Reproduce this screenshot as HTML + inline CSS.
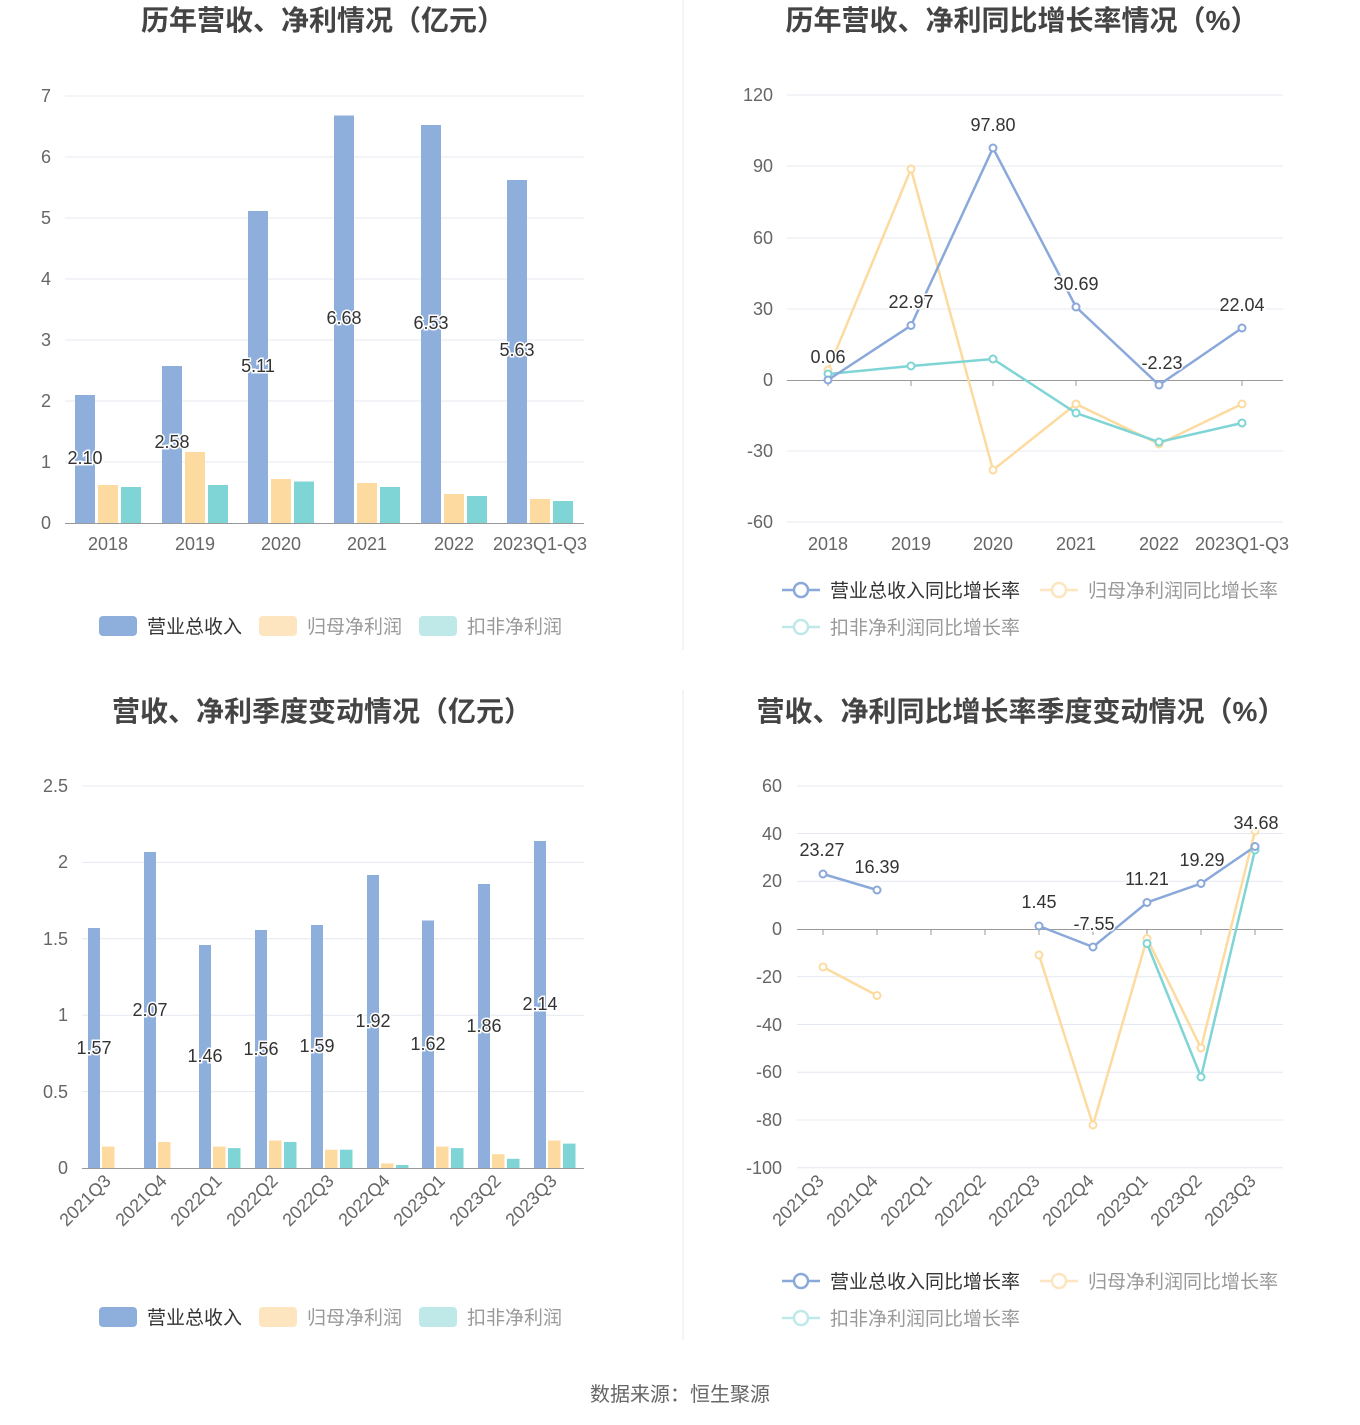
<!DOCTYPE html>
<html><head><meta charset="utf-8"><style>
body{margin:0;background:#fff;}
svg{display:block;font-family:"Liberation Sans","Noto Sans CJK SC",sans-serif;}
.t{font-size:28px;font-weight:bold;fill:#444;text-anchor:middle;}
.ax{font-size:18px;fill:#666;}
.g{stroke:#e4e8f0;stroke-width:1;}
.lb{font-size:18px;fill:#333;text-anchor:middle;paint-order:stroke;stroke:#fff;stroke-width:3px;}
.lg{font-size:19px;fill:#999;}
</style></head><body>
<svg width="1360" height="1425" viewBox="0 0 1360 1425">
<line x1="683" y1="0" x2="683" y2="650" stroke="#e8e8e8"/>
<line x1="683" y1="690" x2="683" y2="1340" stroke="#e8e8e8"/>

<!-- Chart 1 -->
<text class="t" x="323" y="30">历年营收、净利情况（亿元）</text>
<g class="g">
<line x1="65" x2="584" y1="96" y2="96"/><line x1="65" x2="584" y1="157" y2="157"/><line x1="65" x2="584" y1="218" y2="218"/><line x1="65" x2="584" y1="279" y2="279"/><line x1="65" x2="584" y1="340" y2="340"/><line x1="65" x2="584" y1="401" y2="401"/><line x1="65" x2="584" y1="462" y2="462"/>
</g>
<g class="ax" text-anchor="middle">
<text x="46" y="102">7</text><text x="46" y="163">6</text><text x="46" y="224">5</text><text x="46" y="285">4</text><text x="46" y="346">3</text><text x="46" y="407">2</text><text x="46" y="468">1</text><text x="46" y="529">0</text>
<text x="108" y="550">2018</text><text x="195" y="550">2019</text><text x="281" y="550">2020</text><text x="367" y="550">2021</text><text x="454" y="550">2022</text><text x="540" y="550">2023Q1-Q3</text>
</g>
<g fill="#8eaedc">
<rect x="75" y="395" width="20" height="128"/><rect x="162" y="366" width="20" height="157"/><rect x="248" y="211" width="20" height="312"/><rect x="334" y="115.5" width="20" height="407.5"/><rect x="421" y="125" width="20" height="398"/><rect x="507" y="180" width="20" height="343"/>
</g>
<g fill="#fddba0">
<rect x="98" y="485" width="20" height="38"/><rect x="185" y="452" width="20" height="71"/><rect x="271" y="479" width="20" height="44"/><rect x="357" y="483" width="20" height="40"/><rect x="444" y="494" width="20" height="29"/><rect x="530" y="499" width="20" height="24"/>
</g>
<g fill="#7fd5d5">
<rect x="121" y="487" width="20" height="36"/><rect x="208" y="485" width="20" height="38"/><rect x="294" y="481.5" width="20" height="41.5"/><rect x="380" y="487" width="20" height="36"/><rect x="467" y="496" width="20" height="27"/><rect x="553" y="501" width="20" height="22"/>
</g>
<line x1="65" x2="584" y1="523.5" y2="523.5" stroke="#999"/>
<g class="lb">
<text x="85" y="464">2.10</text><text x="172" y="448">2.58</text><text x="258" y="372">5.11</text><text x="344" y="324">6.68</text><text x="431" y="329">6.53</text><text x="517" y="356">5.63</text>
</g>
<rect x="99" y="616" width="38" height="20" rx="4" fill="#8eaedc"/><text x="147" y="633" class="lg" style="fill:#333">营业总收入</text>
<rect x="259" y="616" width="38" height="20" rx="4" fill="#fde5bf"/><text x="307" y="633" class="lg">归母净利润</text>
<rect x="419" y="616" width="38" height="20" rx="4" fill="#bfe9e9"/><text x="467" y="633" class="lg">扣非净利润</text>

<!-- Chart 2 -->
<text class="t" x="1022" y="30">历年营收、净利同比增长率情况（%）</text>
<g class="g">
<line x1="787" x2="1283" y1="95" y2="95"/><line x1="787" x2="1283" y1="166" y2="166"/><line x1="787" x2="1283" y1="238" y2="238"/><line x1="787" x2="1283" y1="309" y2="309"/><line x1="787" x2="1283" y1="451" y2="451"/><line x1="787" x2="1283" y1="522" y2="522"/>
</g>
<g class="ax" text-anchor="end">
<text x="773" y="101">120</text><text x="773" y="172">90</text><text x="773" y="244">60</text><text x="773" y="315">30</text><text x="773" y="386">0</text><text x="773" y="457">-30</text><text x="773" y="528">-60</text>
</g>
<g class="ax" text-anchor="middle">
<text x="828" y="550">2018</text><text x="911" y="550">2019</text><text x="993" y="550">2020</text><text x="1076" y="550">2021</text><text x="1159" y="550">2022</text><text x="1242" y="550">2023Q1-Q3</text>
</g>
<line x1="787" x2="1283" y1="380.5" y2="380.5" stroke="#999"/>
<g stroke="#999"><line x1="828" x2="828" y1="380" y2="386"/><line x1="911" x2="911" y1="380" y2="386"/><line x1="993" x2="993" y1="380" y2="386"/><line x1="1076" x2="1076" y1="380" y2="386"/><line x1="1159" x2="1159" y1="380" y2="386"/><line x1="1242" x2="1242" y1="380" y2="386"/></g>
<g fill="none" stroke-width="2.5">
<polyline stroke="#fddba0" points="828,370 911,169 993,470 1076,404 1159,444 1242,404"/>
<polyline stroke="#7fd5d5" points="828,374 911,366 993,359 1076,413 1159,442 1242,423"/>
<polyline stroke="#8aa8da" points="828,380 911,325.5 993,148 1076,307 1159,385 1242,328"/>
</g>
<g fill="#fff" stroke-width="2">
<g stroke="#fddba0"><circle cx="828" cy="370" r="3.5"/><circle cx="911" cy="169" r="3.5"/><circle cx="993" cy="470" r="3.5"/><circle cx="1076" cy="404" r="3.5"/><circle cx="1159" cy="444" r="3.5"/><circle cx="1242" cy="404" r="3.5"/></g>
<g stroke="#7fd5d5"><circle cx="828" cy="374" r="3.5"/><circle cx="911" cy="366" r="3.5"/><circle cx="993" cy="359" r="3.5"/><circle cx="1076" cy="413" r="3.5"/><circle cx="1159" cy="442" r="3.5"/><circle cx="1242" cy="423" r="3.5"/></g>
<g stroke="#8aa8da"><circle cx="828" cy="380" r="3.5"/><circle cx="911" cy="325.5" r="3.5"/><circle cx="993" cy="148" r="3.5"/><circle cx="1076" cy="307" r="3.5"/><circle cx="1159" cy="385" r="3.5"/><circle cx="1242" cy="328" r="3.5"/></g>
</g>
<g class="lb">
<text x="828" y="363">0.06</text><text x="911" y="308">22.97</text><text x="993" y="131">97.80</text><text x="1076" y="290">30.69</text><text x="1162" y="369">-2.23</text><text x="1242" y="311">22.04</text>
</g>
<g stroke-width="2.5" fill="#fff">
<line x1="782" x2="820" y1="590" y2="590" stroke="#8aa8da"/><circle cx="801" cy="590" r="7" stroke="#8aa8da"/>
<line x1="1040" x2="1078" y1="590" y2="590" stroke="#fde5bf"/><circle cx="1059" cy="590" r="7" stroke="#fde5bf"/>
<line x1="782" x2="820" y1="627" y2="627" stroke="#bfe9e9"/><circle cx="801" cy="627" r="7" stroke="#bfe9e9"/>
</g>
<text x="830" y="597" class="lg" style="fill:#333">营业总收入同比增长率</text>
<text x="1088" y="597" class="lg">归母净利润同比增长率</text>
<text x="830" y="634" class="lg">扣非净利润同比增长率</text>

<!-- Chart 3 -->
<text class="t" x="322" y="721">营收、净利季度变动情况（亿元）</text>
<g class="g">
<line x1="82" x2="584" y1="786" y2="786"/><line x1="82" x2="584" y1="862.4" y2="862.4"/><line x1="82" x2="584" y1="938.8" y2="938.8"/><line x1="82" x2="584" y1="1015.2" y2="1015.2"/><line x1="82" x2="584" y1="1091.6" y2="1091.6"/>
</g>
<g class="ax" text-anchor="end">
<text x="68" y="792">2.5</text><text x="68" y="868">2</text><text x="68" y="945">1.5</text><text x="68" y="1021">1</text><text x="68" y="1098">0.5</text><text x="68" y="1174">0</text>
</g>
<g fill="#8eaedc">
<rect x="88" y="928" width="12" height="240"/><rect x="144" y="852" width="12" height="316"/><rect x="199" y="945" width="12" height="223"/><rect x="255" y="930" width="12" height="238"/><rect x="311" y="925" width="12" height="243"/><rect x="367" y="875" width="12" height="293"/><rect x="422" y="920.5" width="12" height="247.5"/><rect x="478" y="884" width="12" height="284"/><rect x="534" y="841" width="12" height="327"/>
</g>
<g fill="#fddba0">
<rect x="102" y="1146.6" width="12.5" height="21.4"/><rect x="158" y="1142" width="12.5" height="26"/><rect x="213" y="1146.6" width="12.5" height="21.4"/><rect x="269" y="1140.5" width="12.5" height="27.5"/><rect x="325" y="1149.7" width="12.5" height="18.3"/><rect x="381" y="1163.4" width="12.5" height="4.6"/><rect x="436" y="1146.6" width="12.5" height="21.4"/><rect x="492" y="1154.2" width="12.5" height="13.8"/><rect x="548" y="1140.5" width="12.5" height="27.5"/>
</g>
<g fill="#7fd5d5">
<rect x="228" y="1148.1" width="12.5" height="19.9"/><rect x="284" y="1142" width="12.5" height="26"/><rect x="340" y="1149.7" width="12.5" height="18.3"/><rect x="396" y="1165" width="12.5" height="3"/><rect x="451" y="1148.1" width="12.5" height="19.9"/><rect x="507" y="1158.8" width="12.5" height="9.2"/><rect x="563" y="1143.6" width="12.5" height="24.4"/>
</g>
<line x1="82" x2="584" y1="1168.5" y2="1168.5" stroke="#999"/>
<g class="lb">
<text x="94" y="1054">1.57</text><text x="150" y="1016">2.07</text><text x="205" y="1062">1.46</text><text x="261" y="1055">1.56</text><text x="317" y="1052">1.59</text><text x="373" y="1027">1.92</text><text x="428" y="1050">1.62</text><text x="484" y="1032">1.86</text><text x="540" y="1010">2.14</text>
</g>
<g class="ax" text-anchor="end">
<text transform="translate(112,1182) rotate(-45)">2021Q3</text><text transform="translate(168,1182) rotate(-45)">2021Q4</text><text transform="translate(223,1182) rotate(-45)">2022Q1</text><text transform="translate(279,1182) rotate(-45)">2022Q2</text><text transform="translate(335,1182) rotate(-45)">2022Q3</text><text transform="translate(391,1182) rotate(-45)">2022Q4</text><text transform="translate(446,1182) rotate(-45)">2023Q1</text><text transform="translate(502,1182) rotate(-45)">2023Q2</text><text transform="translate(558,1182) rotate(-45)">2023Q3</text>
</g>
<rect x="99" y="1307" width="38" height="20" rx="4" fill="#8eaedc"/><text x="147" y="1324" class="lg" style="fill:#333">营业总收入</text>
<rect x="259" y="1307" width="38" height="20" rx="4" fill="#fde5bf"/><text x="307" y="1324" class="lg">归母净利润</text>
<rect x="419" y="1307" width="38" height="20" rx="4" fill="#bfe9e9"/><text x="467" y="1324" class="lg">扣非净利润</text>

<!-- Chart 4 -->
<text class="t" x="1021" y="721">营收、净利同比增长率季度变动情况（%）</text>
<g class="g">
<line x1="797" x2="1283" y1="786" y2="786"/><line x1="797" x2="1283" y1="833.5" y2="833.5"/><line x1="797" x2="1283" y1="881.3" y2="881.3"/><line x1="797" x2="1283" y1="976.8" y2="976.8"/><line x1="797" x2="1283" y1="1024.5" y2="1024.5"/><line x1="797" x2="1283" y1="1072.3" y2="1072.3"/><line x1="797" x2="1283" y1="1120" y2="1120"/><line x1="797" x2="1283" y1="1167.8" y2="1167.8"/>
</g>
<g class="ax" text-anchor="end">
<text x="782" y="792">60</text><text x="782" y="840">40</text><text x="782" y="887">20</text><text x="782" y="935">0</text><text x="782" y="983">-20</text><text x="782" y="1031">-40</text><text x="782" y="1078">-60</text><text x="782" y="1126">-80</text><text x="782" y="1174">-100</text>
</g>
<line x1="797" x2="1283" y1="929.5" y2="929.5" stroke="#999"/>
<g stroke="#999"><line x1="823" x2="823" y1="929" y2="935"/><line x1="877" x2="877" y1="929" y2="935"/><line x1="931" x2="931" y1="929" y2="935"/><line x1="985" x2="985" y1="929" y2="935"/><line x1="1039" x2="1039" y1="929" y2="935"/><line x1="1093" x2="1093" y1="929" y2="935"/><line x1="1147" x2="1147" y1="929" y2="935"/><line x1="1201" x2="1201" y1="929" y2="935"/><line x1="1255" x2="1255" y1="929" y2="935"/></g>
<g class="ax" text-anchor="end">
<text transform="translate(825,1182) rotate(-45)">2021Q3</text><text transform="translate(879,1182) rotate(-45)">2021Q4</text><text transform="translate(933,1182) rotate(-45)">2022Q1</text><text transform="translate(987,1182) rotate(-45)">2022Q2</text><text transform="translate(1041,1182) rotate(-45)">2022Q3</text><text transform="translate(1095,1182) rotate(-45)">2022Q4</text><text transform="translate(1149,1182) rotate(-45)">2023Q1</text><text transform="translate(1203,1182) rotate(-45)">2023Q2</text><text transform="translate(1257,1182) rotate(-45)">2023Q3</text>
</g>
<g fill="none" stroke-width="2.5">
<polyline stroke="#fddba0" points="823,967 877,995.5"/>
<polyline stroke="#fddba0" points="1039,955 1093,1125 1147,938.5 1201,1048 1255,831"/>
<polyline stroke="#7fd5d5" points="1147,943.5 1201,1077 1255,850"/>
<polyline stroke="#8aa8da" points="823,874 877,890"/>
<polyline stroke="#8aa8da" points="1039,926 1093,947 1147,902.5 1201,883.5 1255,846.5"/>
</g>
<g fill="#fff" stroke-width="2">
<g stroke="#fddba0"><circle cx="823" cy="967" r="3.5"/><circle cx="877" cy="995.5" r="3.5"/><circle cx="1039" cy="955" r="3.5"/><circle cx="1093" cy="1125" r="3.5"/><circle cx="1147" cy="938.5" r="3.5"/><circle cx="1201" cy="1048" r="3.5"/><circle cx="1255" cy="831" r="3.5"/></g>
<g stroke="#7fd5d5"><circle cx="1147" cy="943.5" r="3.5"/><circle cx="1201" cy="1077" r="3.5"/><circle cx="1255" cy="850" r="3.5"/></g>
<g stroke="#8aa8da"><circle cx="823" cy="874" r="3.5"/><circle cx="877" cy="890" r="3.5"/><circle cx="1039" cy="926" r="3.5"/><circle cx="1093" cy="947" r="3.5"/><circle cx="1147" cy="902.5" r="3.5"/><circle cx="1201" cy="883.5" r="3.5"/><circle cx="1255" cy="846.5" r="3.5"/></g>
</g>
<g class="lb">
<text x="822" y="856">23.27</text><text x="877" y="873">16.39</text><text x="1039" y="908">1.45</text><text x="1094" y="930">-7.55</text><text x="1147" y="885">11.21</text><text x="1202" y="866">19.29</text><text x="1256" y="829">34.68</text>
</g>
<g stroke-width="2.5" fill="#fff">
<line x1="782" x2="820" y1="1281" y2="1281" stroke="#8aa8da"/><circle cx="801" cy="1281" r="7" stroke="#8aa8da"/>
<line x1="1040" x2="1078" y1="1281" y2="1281" stroke="#fde5bf"/><circle cx="1059" cy="1281" r="7" stroke="#fde5bf"/>
<line x1="782" x2="820" y1="1318" y2="1318" stroke="#bfe9e9"/><circle cx="801" cy="1318" r="7" stroke="#bfe9e9"/>
</g>
<text x="830" y="1288" class="lg" style="fill:#333">营业总收入同比增长率</text>
<text x="1088" y="1288" class="lg">归母净利润同比增长率</text>
<text x="830" y="1325" class="lg">扣非净利润同比增长率</text>

<text x="680" y="1401" text-anchor="middle" style="font-size:20px;fill:#666">数据来源：恒生聚源</text>
</svg>
</body></html>
